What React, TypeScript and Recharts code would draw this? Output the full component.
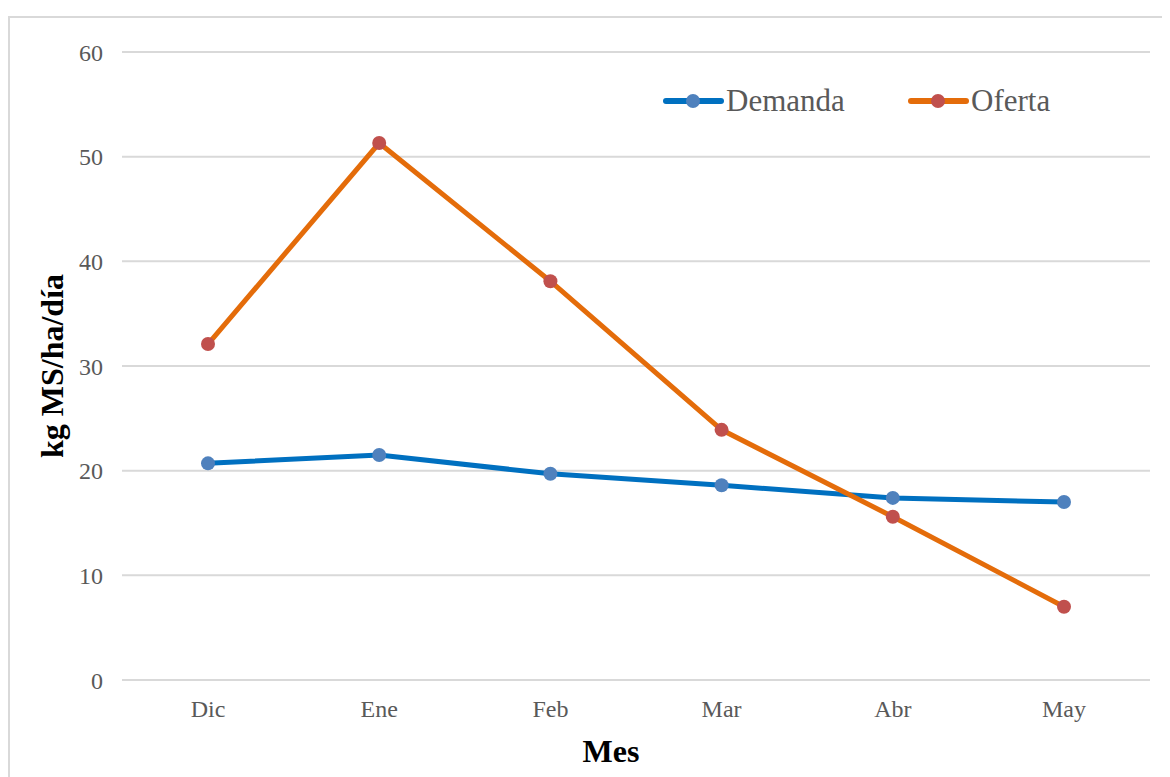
import { LineChart, Line, XAxis, YAxis, CartesianGrid, Legend, Label } from "recharts";

const months = ["Dic", "Ene", "Feb", "Mar", "Abr", "May"];
const demanda = [20.7, 21.5, 19.7, 18.6, 17.4, 17.0];
const oferta = [32.1, 51.3, 38.1, 23.9, 15.6, 7.0];
const yTicks = [0, 10, 20, 30, 40, 50, 60];

const SERIF = '"Liberation Serif", "Times New Roman", serif';

const series = [
  { key: "Demanda", line: "#0070C0", dot: "#4F81BD" },
  { key: "Oferta", line: "#E46C0A", dot: "#C0504D" },
];

const data = months.map((m, i) => ({ mes: m, Demanda: demanda[i], Oferta: oferta[i] }));

function LegendBox() {
  return (
    <svg width={420} height={44}>
      {series.map((s, i) => {
        const x0 = 6 + i * 245;
        return (
          <g key={s.key}>
            <line x1={x0} x2={x0 + 55} y1={22} y2={22} stroke={s.line} strokeWidth={6} strokeLinecap="round" />
            <circle cx={x0 + 27} cy={22} r={7} fill={s.dot} />
            <text x={x0 + 60} y={32} fontFamily={SERIF} fontSize={31} fill="#595959">
              {s.key}
            </text>
          </g>
        );
      })}
    </svg>
  );
}

const tickStyle = { fill: "#595959", fontSize: 24, fontFamily: SERIF };

export default function App() {
  return (
    <div style={{ position: "relative", width: 1162, height: 769, fontFamily: SERIF }}>
      <div
        style={{
          position: "absolute",
          left: 0,
          top: 8,
          width: 1161,
          height: 770,
          borderLeft: "2px solid #d9d9d9",
          borderTop: "2px solid #d9d9d9",
        }}
      />
      <div style={{ position: "absolute", left: -8, top: -8, fontFamily: SERIF }}>
        <LineChart
          width={1170}
          height={777}
          data={data}
          style={{ fontFamily: SERIF }}
          margin={{ top: 52, right: 20, bottom: 0, left: 0 }}
        >
          <CartesianGrid vertical={false} stroke="#d9d9d9" strokeWidth={2} />
          <XAxis
            dataKey="mes"
            height={97}
            padding={{ left: 86, right: 86 }}
            axisLine={false}
            tickLine={false}
            tickSize={6}
            tickMargin={14}
            tick={tickStyle}
            fontFamily={SERIF}
          >
            <Label
              content={({ viewBox }: any) => (
                <text
                  x={611}
                  y={viewBox.y + 82}
                  textAnchor="middle"
                  fontFamily={SERIF}
                  fontSize={32}
                  fontWeight="bold"
                  fill="#000"
                >
                  Mes
                </text>
              )}
            />
          </XAxis>
          <YAxis
            width={122}
            domain={[0, 60]}
            ticks={yTicks}
            axisLine={false}
            tickLine={false}
            tickSize={6}
            tickMargin={13}
            tick={tickStyle}
            fontFamily={SERIF}
          >
            <Label
              content={({ viewBox }: any) => {
                const cx = 63;
                const cy = viewBox.y + viewBox.height / 2;
                return (
                  <text
                    x={cx}
                    y={cy}
                    transform={`rotate(-90, ${cx}, ${cy})`}
                    textAnchor="middle"
                    fontFamily={SERIF}
                    fontSize={32}
                    fontWeight="bold"
                    fill="#000"
                  >
                    kg MS/ha/día
                  </text>
                );
              }}
            />
          </YAxis>
          <Legend
            layout="horizontal"
            verticalAlign="middle"
            align="center"
            wrapperStyle={{ top: 79, left: 660, width: 420, height: 44 }}
            content={() => <LegendBox />}
          />
          {series.map((s) => (
            <Line
              key={s.key}
              dataKey={s.key}
              stroke={s.line}
              strokeWidth={5}
              dot={{ r: 7, fill: s.dot, stroke: s.dot, strokeWidth: 0 }}
              activeDot={false}
              isAnimationActive={false}
            />
          ))}
        </LineChart>
      </div>
    </div>
  );
}
